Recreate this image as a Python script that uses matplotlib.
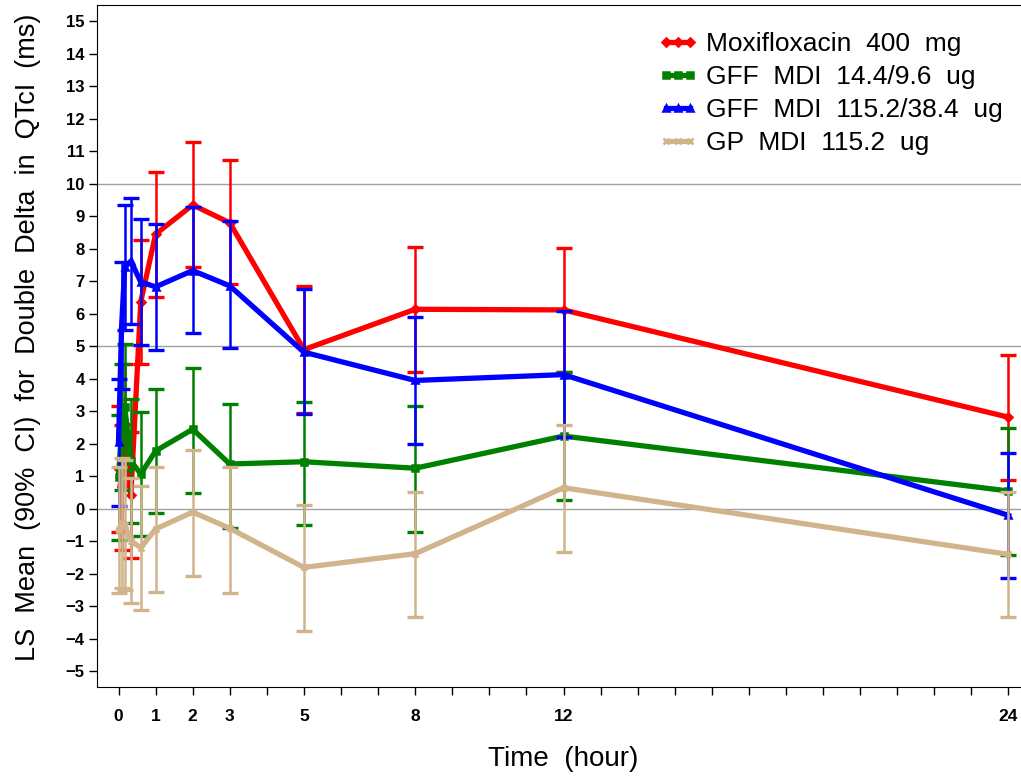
import numpy as np
import matplotlib
matplotlib.use('Agg')
import matplotlib.pyplot as plt

plt.rcParams['font.family'] = ['Liberation Sans', 'DejaVu Sans']

# nominal time points (hour)
time = [0, 0.083, 0.167, 0.333, 0.6, 1, 2, 3, 5, 8, 12, 24]

# LS mean and 90% CI
moxi_mean = [1.22, 0.66, 2.6, 0.42, 6.37, 8.45, 9.35, 8.8, 4.9, 6.14, 6.12, 2.82]
moxi_lo = [-0.7, -1.26, 0.74, -1.5, 4.46, 6.53, 7.45, 6.92, 2.96, 4.22, 4.2, 0.89]
moxi_hi = [3.15, 2.58, 4.46, 2.35, 8.28, 10.37, 11.3, 10.74, 6.85, 8.06, 8.03, 4.74]

gff_lo_mean = [0.98, 2.52, 3.14, 1.48, 1.07, 1.78, 2.45, 1.38, 1.45, 1.25, 2.24, 0.55]
gff_lo_lo = [-0.95, 0.58, 1.2, -0.43, -0.85, -0.13, 0.48, -0.58, -0.51, -0.7, 0.28, -1.42]
gff_lo_hi = [2.9, 4.46, 5.08, 3.38, 2.98, 3.68, 4.33, 3.22, 3.3, 3.15, 4.2, 2.48]

gff_hi_mean = [2.05, 5.6, 7.43, 7.62, 6.98, 6.83, 7.33, 6.86, 4.82, 3.95, 4.13, -0.2]
gff_hi_lo = [0.1, 3.7, 5.5, 5.68, 5.05, 4.89, 5.42, 4.96, 2.92, 2.0, 2.2, -2.13]
gff_hi_hi = [4.0, 7.6, 9.35, 9.56, 8.92, 8.77, 9.3, 8.84, 6.75, 5.9, 6.1, 1.71]

gp_mean = [-0.65, -0.44, -0.5, -0.98, -1.2, -0.62, -0.1, -0.6, -1.8, -1.38, 0.65, -1.4]
gp_lo = [-2.6, -2.44, -2.5, -2.9, -3.1, -2.55, -2.08, -2.6, -3.75, -3.33, -1.33, -3.32]
gp_hi = [1.3, 1.56, 1.5, 0.95, 0.71, 1.3, 1.8, 1.3, 0.12, 0.52, 2.58, 0.51]

labels = ['Moxifloxacin  400  mg', 'GFF  MDI  14.4/9.6  ug',
          'GFF  MDI  115.2/38.4  ug', 'GP  MDI  115.2  ug']
colors = ['#ff0000', '#008000', '#0000ff', '#d2b48c']
markers = ['D', 's', '^', 'x']

series = [(moxi_mean, moxi_lo, moxi_hi),
          (gff_lo_mean, gff_lo_lo, gff_lo_hi),
          (gff_hi_mean, gff_hi_lo, gff_hi_hi),
          (gp_mean, gp_lo, gp_hi)]

fig = plt.figure(figsize=(10.21, 7.78), dpi=100)
# right edge of the frame falls outside the picture
ax = fig.add_axes([97/1021, 91/778, 933/1021, 682/778])

for y in [0, 5, 10]:
    ax.axhline(y, color='#a0a0a0', lw=1, zorder=1)

handles = []
for i, (m, lo, hi) in enumerate(series):
    m = np.array(m)
    err = [m - np.array(lo), np.array(hi) - m]
    ax.errorbar(time, m, yerr=err, fmt='none', ecolor=colors[i],
                elinewidth=1.8, capsize=5.5, capthick=2.4, zorder=2 + i)
    ln, = ax.plot(time, m, color=colors[i], lw=3.8, marker=markers[i],
                  ms=4.5, mew=1.8, zorder=2 + i)
    handles.append(ln)

ax.set_xlim(-0.58, 24.58)
ax.set_ylim(-5.48, 15.5)

ax.set_yticks(range(-5, 16))
ax.set_yticklabels([str(v).replace('-', '\u2212') for v in range(-5, 16)],
                   fontweight='bold', fontsize=12)
xlab = {0: '0', 1: '1', 2: '2', 3: '3', 5: '5', 8: '8', 12: '12', 24: '24'}
ax.set_xticks(range(25))
ax.set_xticklabels([xlab.get(v, '') for v in range(25)],
                   fontweight='bold', fontsize=12.5)
ax.tick_params(axis='x', length=6, width=1, pad=10)
ax.tick_params(axis='y', length=6, width=1, pad=3)

ax.set_ylabel('LS  Mean  (90%  CI)  for  Double  Delta  in  QTcI  (ms)',
              fontsize=19.5)
ax.yaxis.set_label_coords(-0.06, 0.5125)
ax.set_xlabel('Time  (hour)', fontsize=20)
ax.xaxis.set_label_coords(0.4995, -0.087)

ax.legend(handles, labels, loc='upper left', frameon=False, fontsize=19,
          numpoints=3, handlelength=1.5, handletextpad=0.3,
          labelspacing=0.34, borderpad=0, borderaxespad=0,
          bbox_to_anchor=(658/1021, 1 - 32/778),
          bbox_transform=fig.transFigure)

fig.savefig('out.png', dpi=100)
